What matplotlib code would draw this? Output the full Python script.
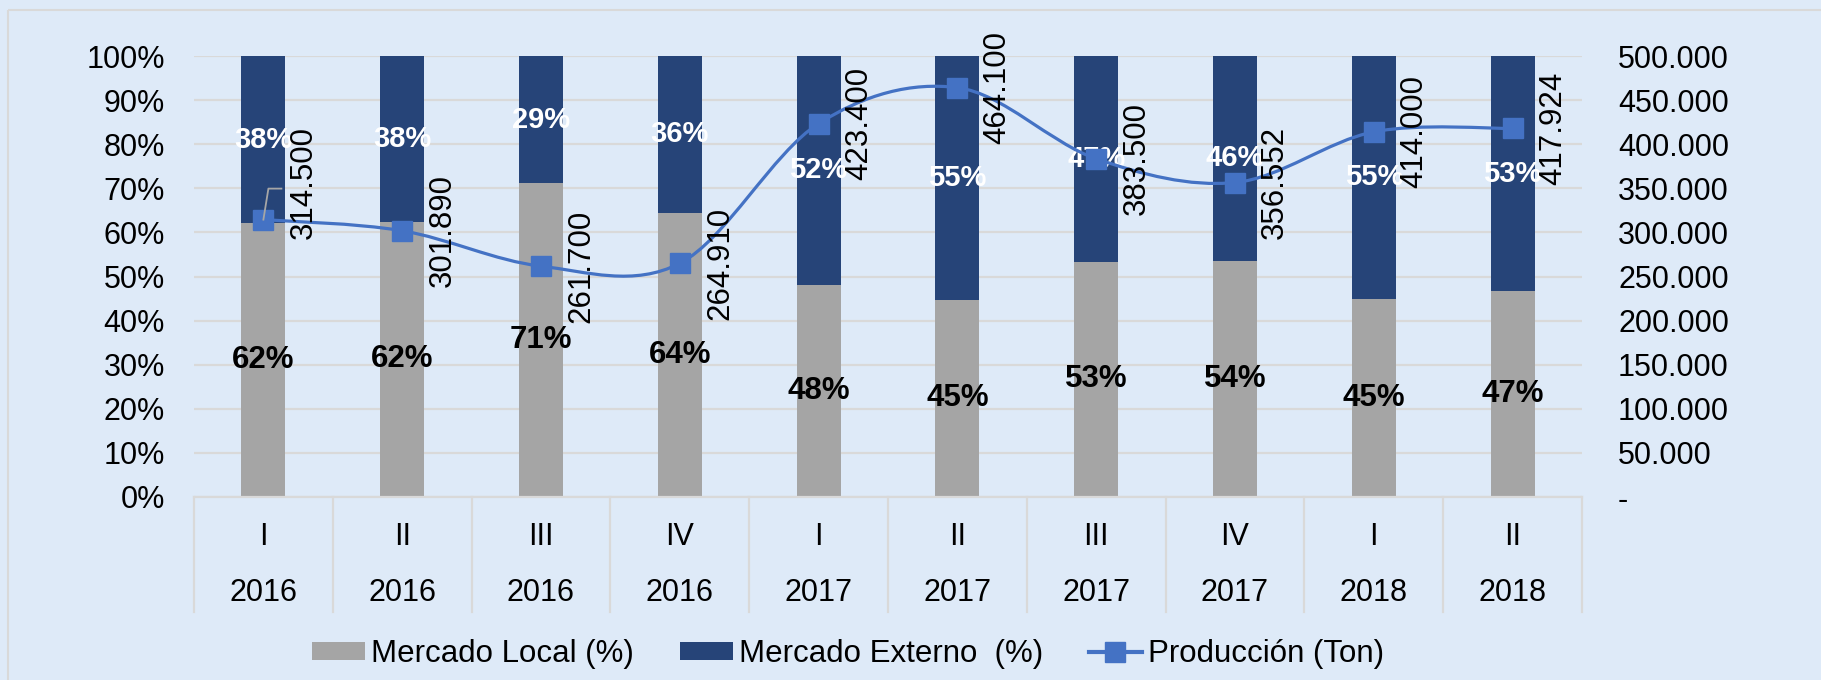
import matplotlib
matplotlib.use("Agg")
import matplotlib.pyplot as plt
import numpy as np
from matplotlib.lines import Line2D
from matplotlib.patches import Patch, Rectangle
from matplotlib.path import Path
from matplotlib.patches import PathPatch
from matplotlib.transforms import IdentityTransform

plt.rcParams["font.family"] = ["Liberation Sans", "DejaVu Sans"]

quarters = ["I", "II", "III", "IV", "I", "II", "III", "IV", "I", "II"]
years = ["2016", "2016", "2016", "2016", "2017", "2017", "2017", "2017", "2018", "2018"]
local_pct = [62.1, 62.4, 71.2, 64.4, 48.1, 44.7, 53.3, 53.6, 44.9, 46.6]
externo_pct = [37.9, 37.6, 28.8, 35.6, 51.9, 55.3, 46.7, 46.4, 55.1, 53.4]
produccion = [314500, 301890, 261700, 264910, 423400, 464100, 383500, 356552, 414000, 417924]

BG = "#DEEAF8"
GRAY = "#A5A5A5"
NAVY = "#264478"
BLUE = "#4472C4"
GRID = "#D9D9D9"

W, H = 1821, 680
fig = plt.figure(figsize=(W / 100, H / 100), dpi=100, facecolor=BG)
fig.add_artist(Rectangle((8 / W, 1 - 10 / H), 2, -2, transform=fig.transFigure,
                         fill=False, edgecolor=GRID, lw=1.5))
ax = fig.add_axes([194 / W, 1 - 497 / H, (1582 - 194) / W, (497 - 56) / H])
ax.set_facecolor(BG)

x = np.arange(len(quarters))
bw = 0.317
ax.bar(x, local_pct, bw, color=GRAY, zorder=2)
ax.bar(x, externo_pct, bw, bottom=local_pct, color=NAVY, zorder=2)

ax.set_xlim(-0.5, len(x) - 0.5)
ax.set_ylim(0, 100)
ax.set_yticks(np.arange(0, 101, 10))
ax.set_yticklabels([f"{v}%" for v in range(0, 101, 10)])
ax.yaxis.grid(True, color=GRID, lw=1.6)
ax.set_axisbelow(True)
for s in ["top", "left", "right"]:
    ax.spines[s].set_visible(False)
ax.spines["bottom"].set_color(GRID)
ax.spines["bottom"].set_linewidth(1.6)
ax.set_xticks([])
ax.tick_params(axis="y", length=0, labelsize=22, pad=21)

# two-level category axis
xt = ax.get_xaxis_transform()
for i in range(len(x)):
    ax.text(i, -40 / 441, quarters[i], transform=xt, ha="center", va="center", fontsize=22)
    ax.text(i, -96 / 441, years[i], transform=xt, ha="center", va="center", fontsize=22)
for b in np.arange(-0.5, len(x), 1.0):
    ax.plot([b, b], [0, -115 / 441], transform=xt, color=GRID, lw=1.6, clip_on=False)

# percentage labels
for i in range(len(x)):
    ax.text(i, local_pct[i] / 2, f"{local_pct[i]:.0f}%", ha="center", va="center",
            fontsize=22.5, fontweight="bold", color="black", zorder=5)
    ax.text(i, local_pct[i] + externo_pct[i] / 2, f"{externo_pct[i]:.0f}%", ha="center",
            va="center", fontsize=21, fontweight="bold", color="white", zorder=5)

# production on secondary axis
ax2 = ax.twinx()
ax2.set_ylim(0, 500000)
ax2.set_yticks(np.arange(0, 500001, 50000))
ax2.set_yticklabels(["-" if v == 0 else f"{v:,.0f}".replace(",", ".")
                     for v in range(0, 500001, 50000)])
ax2.tick_params(axis="y", length=0, labelsize=22, pad=26)
for s in ax2.spines.values():
    s.set_visible(False)
ax2.patch.set_visible(False)

# smoothed line as cubic bezier
pts = np.column_stack([x, produccion]).astype(float)
n = len(pts)
verts = [pts[0]]
codes = [Path.MOVETO]
for i in range(n - 1):
    p0 = pts[max(i - 1, 0)]
    p1 = pts[i]
    p2 = pts[i + 1]
    p3 = pts[min(i + 2, n - 1)]
    verts += [p1 + (p2 - p0) / 6, p2 - (p3 - p1) / 6, p2]
    codes += [Path.CURVE4] * 3
ax2.add_patch(PathPatch(Path(verts, codes), fill=False, edgecolor=BLUE, lw=2.3, zorder=3))
ax2.plot(x, produccion, ls="none", marker="s", ms=14, color=BLUE, zorder=4)

for i, v in enumerate(produccion):
    lab = f"{v:,.0f}".replace(",", ".")
    dy = 26.6 if i == 0 else 0
    ax2.annotate(lab, xy=(i, v), xytext=(29, dy), textcoords="offset points",
                 rotation=90, ha="center", va="center", fontsize=22.5, zorder=6)

# leader line for the moved first label
px, py = ax2.transData.transform((x[0], produccion[0]))
fig.add_artist(Line2D([px, px + 5, px + 18], [py, py + 31, py + 31],
                      transform=IdentityTransform(), color="#A6A6A6", lw=1.3))

handles = [
    Patch(facecolor=GRAY, edgecolor="none"),
    Patch(facecolor=NAVY, edgecolor="none"),
    Line2D([0], [0], color=BLUE, lw=3, marker="s", ms=14),
]
labels = ["Mercado Local (%)", "Mercado Externo  (%)", "Producción (Ton)"]
fig.legend(handles, labels, loc="center", bbox_to_anchor=(848 / W, 1 - 654 / H), ncol=3,
           frameon=False, fontsize=22.5, handlelength=1.7, handleheight=0.55,
           handletextpad=0.2, columnspacing=1.45)

fig.savefig("out.png", dpi=100, facecolor=BG)
